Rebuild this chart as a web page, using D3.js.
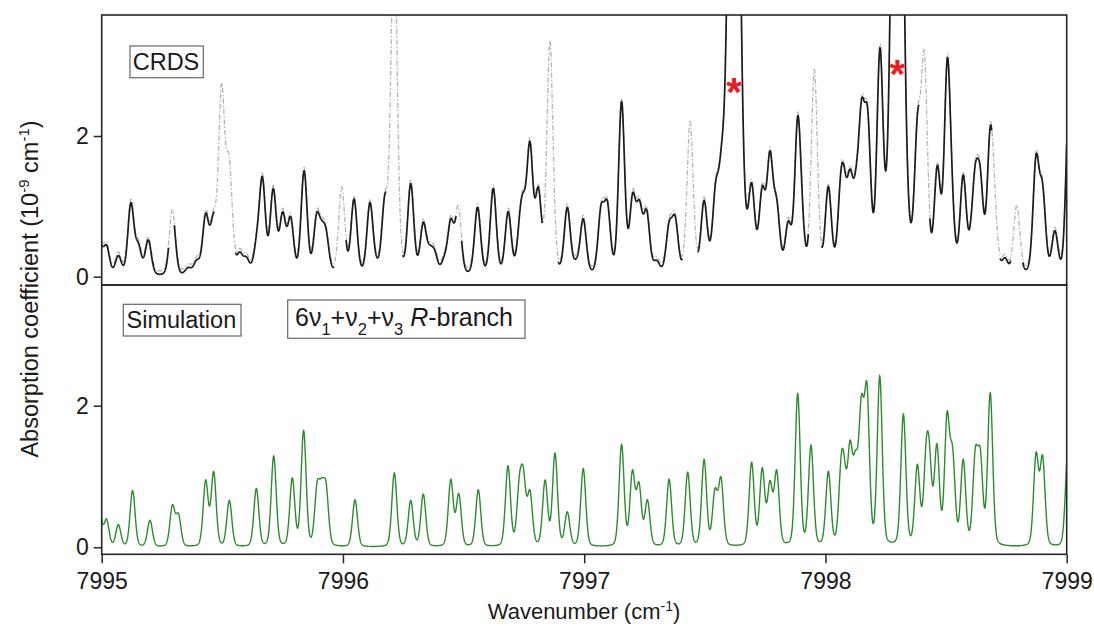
<!DOCTYPE html>
<html>
<head>
<meta charset="utf-8">
<script src="https://cdn.jsdelivr.net/npm/d3@7"></script>
<style>
  html, body { margin: 0; padding: 0; background: #fff; }
  svg text { font-family: Arial, "Liberation Sans", sans-serif; fill: #1a1a1a; }
</style>
</head>
<body>
<svg id="chart" width="1094" height="626"></svg>
<script>
// ---------------- data ----------------
const xTicks = [7995, 7996, 7997, 7998, 7999];
const yTicks = [0, 2];

// CRDS spectrum: line centres (cm-1) and observed peak-top values (1e-9 cm-1)
const crdsPos = [7994.99, 7995.02, 7995.069, 7995.121, 7995.152, 7995.193, 7995.293, 7995.359, 7995.394, 7995.431,
  7995.463, 7995.497, 7995.528, 7995.572, 7995.600, 7995.642, 7995.666, 7995.711, 7995.750, 7995.783,
  7995.839, 7995.891, 7995.912, 7995.930, 7995.995, 7996.046, 7996.112, 7996.138, 7996.174, 7996.212,
  7996.281, 7996.333, 7996.360, 7996.380, 7996.420, 7996.447, 7996.478, 7996.558, 7996.623, 7996.685,
  7996.734, 7996.748, 7996.775, 7996.810, 7996.858, 7996.930, 7996.965, 7996.996, 7997.070, 7997.096,
  7997.155, 7997.201, 7997.229, 7997.259, 7997.300, 7997.352, 7997.377, 7997.439, 7997.497, 7997.545,
  7997.570, 7997.694, 7997.738, 7997.770, 7997.798, 7997.846, 7997.885, 7997.902, 7997.954, 7998.012,
  7998.063, 7998.077, 7998.102, 7998.127, 7998.150, 7998.175, 7998.226, 7998.382, 7998.410, 7998.464,
  7998.505, 7998.523, 7998.571, 7998.604, 7998.621, 7998.642, 7998.683, 7998.700, 7998.744, 7998.793,
  7998.873, 7998.900, 7998.951, 7999.010];
const crdsHeight = [0.50, 0.45, 0.30, 1.05, 0.48, 0.52, 0.90, 0.13, 0.24, 0.90,
  0.90, 2.70, 1.68, 0.35, 0.28, 0.62, 1.42, 1.25, 0.92, 0.85,
  1.50, 0.90, 0.80, 0.68, 1.22, 1.10, 1.05, 0.30, 1.17, 5.00,
  1.32, 0.77, 0.45, 0.38, 0.30, 0.82, 0.95, 0.98, 1.25, 0.92,
  0.95, 1.20, 1.92, 1.27, 3.30, 0.98, 0.25, 0.82, 1.02, 1.07,
  2.48, 1.18, 1.08, 0.94, 0.22, 0.78, 0.86, 2.15, 1.08, 1.35,
  1.90, 1.33, 1.28, 1.78, 1.10, 0.78, 2.27, 1.30, 2.87, 1.27,
  1.45, 1.56, 1.52, 1.55, 2.52, 2.38, 3.25, 2.33, 3.15, 1.58,
  3.10, 1.72, 1.44, 0.85, 1.58, 1.53, 2.12, 1.40, 0.26, 0.96,
  1.73, 1.33, 0.65, 2.60];
// two saturated lines (marked with *)
const strongPos = [7997.621, 7998.298];
const strongHeight = [12, 12];
// wavenumber ranges where the black CRDS trace is shown
const crdsSegStart = [7995.000, 7995.301, 7995.555, 7996.013, 7996.248, 7996.492, 7996.893, 7997.470, 7997.984, 7998.433, 7998.724, 7998.818];
const crdsSegEnd   = [7995.277, 7995.466, 7995.963, 7996.179, 7996.469, 7996.826, 7997.407, 7997.929, 7998.387, 7998.689, 7998.768, 7999.000];
const grayBaseline = 0.05;

// Simulation: line centres and peak-top values
const simPos = [7994.99, 7995.02, 7995.069, 7995.128, 7995.200, 7995.293, 7995.318, 7995.431, 7995.464, 7995.529,
  7995.641, 7995.713, 7995.790, 7995.837, 7995.893, 7995.912, 7995.930, 7996.050, 7996.213, 7996.281,
  7996.333, 7996.447, 7996.480, 7996.561, 7996.684, 7996.731, 7996.748, 7996.775, 7996.838, 7996.879,
  7996.930, 7996.996, 7997.155, 7997.200, 7997.227, 7997.262, 7997.352, 7997.429, 7997.497, 7997.542,
  7997.567, 7997.694, 7997.738, 7997.770, 7997.798, 7997.885, 7997.940, 7998.012, 7998.065, 7998.078,
  7998.102, 7998.125, 7998.149, 7998.172, 7998.225, 7998.323, 7998.381, 7998.417, 7998.431, 7998.462,
  7998.504, 7998.527, 7998.571, 7998.621, 7998.642, 7998.683, 7998.873, 7998.900, 7999.005];
const simHeight = [0.55, 0.40, 0.32, 0.80, 0.38, 0.60, 0.48, 0.95, 1.07, 0.66,
  0.83, 1.29, 0.98, 1.65, 0.93, 0.98, 0.92, 0.67, 1.05, 0.66,
  0.75, 0.96, 0.76, 0.81, 1.15, 1.01, 1.12, 0.81, 0.95, 1.33,
  0.50, 1.11, 1.45, 1.09, 0.92, 0.67, 0.96, 1.06, 1.24, 0.83,
  0.99, 1.20, 1.12, 0.94, 1.09, 2.17, 1.44, 1.07, 1.29, 1.28,
  1.51, 1.37, 2.15, 2.32, 2.42, 1.88, 1.17, 1.49, 1.48, 1.46,
  1.91, 1.42, 1.24, 1.40, 1.39, 2.18, 1.34, 1.30, 1.35];

// asterisk markers
const markerPos = [7997.621, 7998.298];
const markerValue = [2.76, 3.01];

// ---------------- line-shape model ----------------
const ETA = 0.2;
const crdsWidth = 0.0148, strongWidth = 0.023, simWidth = 0.0122;
function profile(d, w) { const t = d / w; return (1 - ETA) * Math.exp(-Math.LN2 * t * t) + ETA / (1 + t * t); }
// amplitudes such that the summed profile reaches the read peak-top values
function solveAmps(pos, target, widths) {
  const n = pos.length, a = target.slice();
  for (let it = 0; it < 150; it++) {
    for (let i = 0; i < n; i++) {
      let s = 0;
      for (let j = 0; j < n; j++) {
        const d = pos[i] - pos[j];
        if (Math.abs(d) < 0.3) s += a[j] * profile(d, widths[j]);
      }
      a[i] = Math.max(0, a[i] + 0.7 * (target[i] - s));
    }
  }
  return a;
}
const cPos = crdsPos.concat(strongPos);
const cW = crdsPos.map(() => crdsWidth).concat(strongPos.map(() => strongWidth));
const cAmp = solveAmps(cPos, crdsHeight.concat(strongHeight), cW);
const sW = simPos.map(() => simWidth);
const sAmp = solveAmps(simPos, simHeight, sW);
function spectrum(x, pos, amp, w) {
  let s = 0;
  for (let j = 0; j < pos.length; j++) { const d = x - pos[j]; if (Math.abs(d) < 0.6) s += amp[j] * profile(d, w[j]); }
  return s;
}
function sample(a, b) { const pts = []; const n = Math.round((b - a) / 0.0008); for (let i = 0; i <= n; i++) pts.push(a + (b - a) * i / n); return pts; }

// ---------------- layout ----------------
const svg = d3.select("#chart");
const L = 101.7, R = 1066.7;
const topY0 = 15, mid = 285, botY1 = 554.3;
const x = d3.scaleLinear().domain([7995, 7999]).range([L, R]);
const yTop = d3.scaleLinear().domain([-0.118, 3.72]).range([mid, topY0]);
const yBot = d3.scaleLinear().domain([-0.099, 3.705]).range([botY1, mid]);

const defs = svg.append("defs");
defs.append("clipPath").attr("id", "clipTop").append("rect").attr("x", L).attr("y", topY0).attr("width", R - L).attr("height", mid - topY0);
defs.append("clipPath").attr("id", "clipBot").append("rect").attr("x", L).attr("y", mid).attr("width", R - L).attr("height", botY1 - mid);

// ---- top panel (CRDS) ----
const gTop = svg.append("g").attr("clip-path", "url(#clipTop)");
const allX = sample(7995, 7999);
const lineTop = d3.line().x(d => x(d[0])).y(d => yTop(d[1]));
gTop.append("path")
  .datum(allX.map(v => [v, grayBaseline + spectrum(v, cPos, cAmp, cW)]))
  .attr("d", lineTop).attr("fill", "none").attr("stroke", "#b4b4b4").attr("stroke-width", 1.3)
  .attr("stroke-dasharray", "5,2,1.5,2");
crdsSegStart.forEach((s, i) => {
  gTop.append("path")
    .datum(sample(s, crdsSegEnd[i]).map(v => [v, spectrum(v, cPos, cAmp, cW)]))
    .attr("d", lineTop).attr("fill", "none").attr("stroke", "#1c1c1c").attr("stroke-width", 1.7)
    .attr("stroke-linejoin", "round");
});

// ---- bottom panel (simulation) ----
const gBot = svg.append("g").attr("clip-path", "url(#clipBot)");
gBot.append("path")
  .datum(allX.map(v => [v, spectrum(v, simPos, sAmp, sW)]))
  .attr("d", d3.line().x(d => x(d[0])).y(d => yBot(d[1])))
  .attr("fill", "none").attr("stroke", "#2b8c2b").attr("stroke-width", 1.4);

// ---- frames ----
svg.append("rect").attr("x", L).attr("y", topY0).attr("width", R - L).attr("height", mid - topY0)
  .attr("fill", "none").attr("stroke", "#262626").attr("stroke-width", 1.6);
svg.append("rect").attr("x", L).attr("y", mid).attr("width", R - L).attr("height", botY1 - mid)
  .attr("fill", "none").attr("stroke", "#262626").attr("stroke-width", 1.6);

// ---- axes ----
function styleAxis(g, fs) {
  g.select(".domain").remove();
  g.selectAll(".tick line").attr("stroke", "#262626").attr("stroke-width", 1.5);
  g.selectAll(".tick text").attr("font-size", fs).attr("fill", "#1a1a1a")
    .attr("font-family", 'Arial, "Liberation Sans", sans-serif');
}
svg.append("g").attr("transform", `translate(${L},0)`)
  .call(d3.axisLeft(yTop).tickValues(yTicks).tickFormat(d3.format("d")).tickSize(8).tickPadding(5))
  .call(g => styleAxis(g, 23));
svg.append("g").attr("transform", `translate(${L},0)`)
  .call(d3.axisLeft(yBot).tickValues(yTicks).tickFormat(d3.format("d")).tickSize(8).tickPadding(5))
  .call(g => styleAxis(g, 23));
svg.append("g").attr("transform", `translate(0,${botY1})`)
  .call(d3.axisBottom(x).tickValues(xTicks).tickFormat(d3.format("d")).tickSize(9).tickPadding(9))
  .call(g => styleAxis(g, 23));

// ---- axis titles ----
const yt = svg.append("text").attr("transform", "translate(38,289) rotate(-90)")
  .attr("text-anchor", "middle").attr("font-size", 23.5);
yt.append("tspan").text("Absorption coefficient (10");
yt.append("tspan").attr("dy", -9).attr("font-size", 15).text("-9");
yt.append("tspan").attr("dy", 9).text(" cm");
yt.append("tspan").attr("dy", -9).attr("font-size", 15).text("-1");
yt.append("tspan").attr("dy", 9).text(")");

const xt = svg.append("text").attr("x", 584).attr("y", 619).attr("text-anchor", "middle").attr("font-size", 22);
xt.append("tspan").text("Wavenumber (cm");
xt.append("tspan").attr("dy", -8).attr("font-size", 14).text("-1");
xt.append("tspan").attr("dy", 8).text(")");

// ---- labels in boxes ----
function boxLabel(x0, y0, w, h) {
  svg.append("rect").attr("x", x0).attr("y", y0).attr("width", w).attr("height", h)
    .attr("fill", "#fff").attr("stroke", "#666").attr("stroke-width", 1.2);
}
boxLabel(130, 46, 73.3, 31.7);
svg.append("text").attr("x", 132.7).attr("y", 70).attr("font-size", 23.5).text("CRDS");
boxLabel(123.3, 304.3, 117.7, 31.7);
svg.append("text").attr("x", 126.5).attr("y", 328.3).attr("font-size", 23.5).text("Simulation");
boxLabel(287.7, 300, 237.3, 38.3);
const ft = svg.append("text").attr("x", 295).attr("y", 325.7).attr("font-size", 25);
ft.append("tspan").text("6ν");
ft.append("tspan").attr("dy", 9).attr("font-size", 16.5).text("1");
ft.append("tspan").attr("dy", -9).text("+ν");
ft.append("tspan").attr("dy", 9).attr("font-size", 16.5).text("2");
ft.append("tspan").attr("dy", -9).text("+ν");
ft.append("tspan").attr("dy", 9).attr("font-size", 16.5).text("3");
ft.append("tspan").attr("dy", -9).text(" ");
ft.append("tspan").attr("font-style", "italic").text("R");
ft.append("tspan").text("-branch");

// ---- asterisks ----
markerPos.forEach((p, i) => {
  svg.append("text").attr("x", x(p)).attr("y", yTop(markerValue[i]) + 23)
    .attr("text-anchor", "middle").attr("font-size", 40).attr("font-weight", "bold")
    .style("fill", "#ee1c1c").text("*");
});
</script>
</body>
</html>
